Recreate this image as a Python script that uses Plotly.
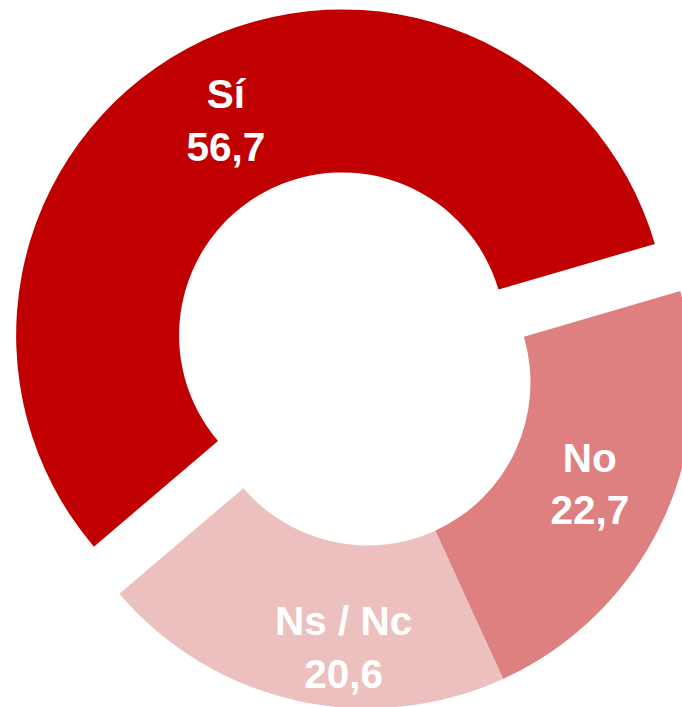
import plotly.graph_objects as go

# Data (clockwise order starting at the Sí/No boundary)
labels = ["No", "Ns / Nc", "Sí"]
values = [22.7, 20.6, 56.7]
colors = ["rgb(222,128,128)", "rgb(237,192,192)", "rgb(192,0,0)"]
pulls = [0, 0, 0.1644]

FONT = dict(family="Liberation Sans, Arial, sans-serif", size=40.5, color="white")
tmpl = "<b>%{label}<br>%{value:.1f}</b>"

fig = go.Figure(
    go.Pie(
        labels=labels,
        values=values,
        sort=False,
        direction="clockwise",
        rotation=73.7,
        hole=0.5,
        pull=pulls,
        marker=dict(colors=colors, line=dict(width=0)),
        texttemplate=[tmpl, "", tmpl],
        textposition="inside",
        insidetextorientation="horizontal",
        insidetextfont=FONT,
        hoverinfo="label+value",
        showlegend=False,
    )
)

# Ns / Nc label sits a little off the slice bisector in the reference
ns_text = "<b>{}<br>{}</b>".format(labels[1], f"{values[1]:.1f}".replace(".", ","))
fig.add_annotation(
    text=ns_text, xref="paper", yref="paper", x=0.469, y=0.1535,
    xanchor="center", yanchor="middle", showarrow=False, font=FONT,
)

fig.update_layout(
    width=759,
    height=765,
    margin=dict(l=0, r=0, t=0, b=0, pad=0),
    paper_bgcolor="white",
    plot_bgcolor="white",
    separators=",.",
    showlegend=False,
)

post = (
    "document.documentElement.style.overflow='hidden';"
    "document.body.style.margin='0';"
    "document.body.style.overflow='hidden';"
    "var d=document.getElementById('{plot_id}');"
    "d.style.position='absolute';d.style.left='-12px';d.style.top='0px';"
)

fig.write_html("out.html", config={"displayModeBar": False}, post_script=post)
